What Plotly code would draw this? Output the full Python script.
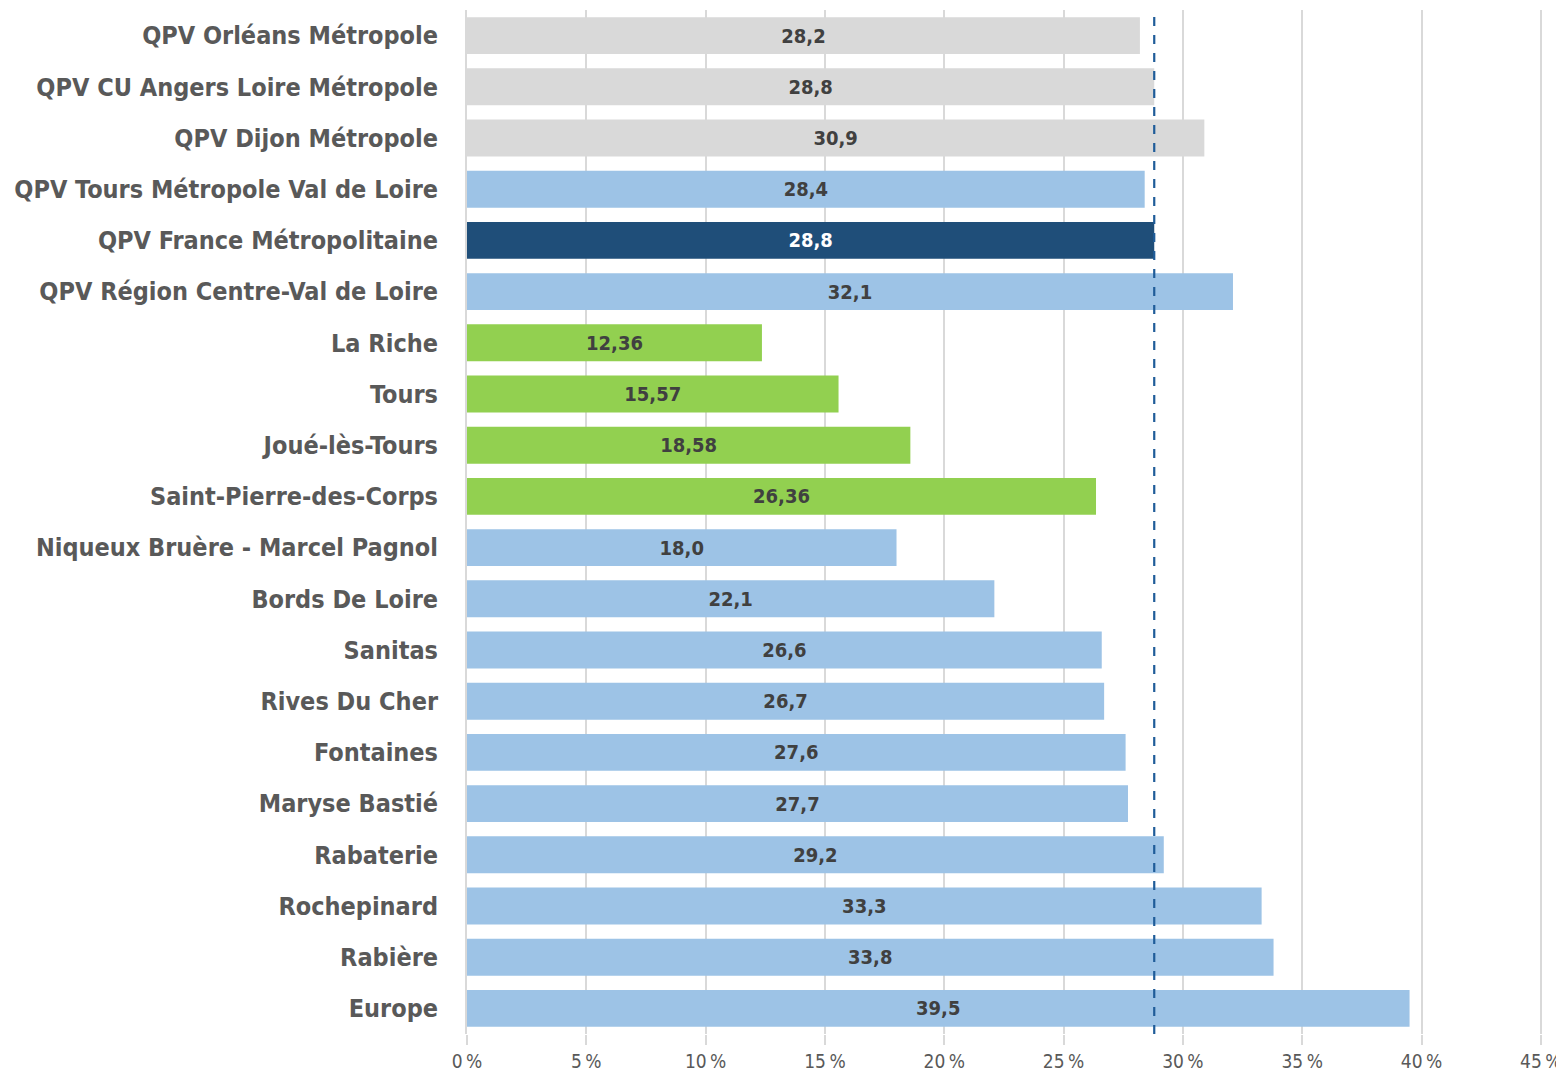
import plotly.graph_objects as go

categories = [
    "QPV Orléans Métropole",
    "QPV CU Angers Loire Métropole",
    "QPV Dijon Métropole",
    "QPV Tours Métropole Val de Loire",
    "QPV France Métropolitaine",
    "QPV Région Centre-Val de Loire",
    "La Riche",
    "Tours",
    "Joué-lès-Tours",
    "Saint-Pierre-des-Corps",
    "Niqueux Bruère - Marcel Pagnol",
    "Bords De Loire",
    "Sanitas",
    "Rives Du Cher",
    "Fontaines",
    "Maryse Bastié",
    "Rabaterie",
    "Rochepinard",
    "Rabière",
    "Europe",
]
values = [28.2, 28.8, 30.9, 28.4, 28.8, 32.1, 12.36, 15.57, 18.58, 26.36,
          18.0, 22.1, 26.6, 26.7, 27.6, 27.7, 29.2, 33.3, 33.8, 39.5]
decimals = [1, 1, 1, 1, 1, 1, 2, 2, 2, 2, 1, 1, 1, 1, 1, 1, 1, 1, 1, 1]
groups = ["other", "other", "other", "blue", "france", "blue",
          "commune", "commune", "commune", "commune",
          "blue", "blue", "blue", "blue", "blue", "blue", "blue", "blue", "blue", "blue"]
reference_value = 28.8
x_ticks = [0, 5, 10, 15, 20, 25, 30, 35, 40, 45]

color_map = {"other": "#D9D9D9", "blue": "#9DC3E6", "france": "#1F4E79", "commune": "#92D050"}
text_color_map = {"other": "#404040", "blue": "#404040", "france": "#FFFFFF", "commune": "#404040"}

labels = [f"{v:.{d}f}".replace(".", ",") for v, d in zip(values, decimals)]

FONT = "Liberation Sans Narrow, Arial Narrow, DejaVu Sans Condensed, sans-serif"

fig = go.Figure()
fig.add_trace(go.Bar(
    x=values,
    y=categories,
    orientation="h",
    marker=dict(color=[color_map[g] for g in groups], line=dict(width=0)),
    text=labels,
    textposition="inside",
    insidetextanchor="middle",
    textangle=0,
    textfont=dict(family=FONT, size=20, color=[text_color_map[g] for g in groups], weight="bold"),
    width=0.72,
    hoverinfo="x+y",
))

fig.add_shape(
    type="line", xref="x", yref="paper",
    x0=reference_value, x1=reference_value, y0=0, y1=1,
    line=dict(color="#1F5C99", width=2.2, dash="dash"),
    layer="above",
)

fig.update_layout(
    width=1564, height=1071,
    margin=dict(l=459, r=30, t=2, b=45),
    plot_bgcolor="white", paper_bgcolor="white",
    showlegend=False,
    font=dict(family=FONT, color="#595959"),
)
fig.update_xaxes(
    range=[0, x_ticks[-1] + 0.05],
    automargin=False,
    tickvals=x_ticks,
    ticktext=[f"{t}\u202f%" for t in x_ticks],
    showgrid=True, gridcolor="#D9D9D9", gridwidth=2,
    zeroline=False,
    showline=False,
    ticks="outside", ticklen=10, tickcolor="#D9D9D9", tickwidth=2,
    tickfont=dict(family=FONT, size=19, color="#595959"),
)
fig.update_yaxes(
    autorange="reversed",
    automargin=False,
    showgrid=False,
    showline=True, linecolor="#D9D9D9", linewidth=2,
    ticks="", ticklabelstandoff=22,
    tickfont=dict(family=FONT, size=25, color="#595959", weight="bold"),
)

fig.write_html("out.html")
